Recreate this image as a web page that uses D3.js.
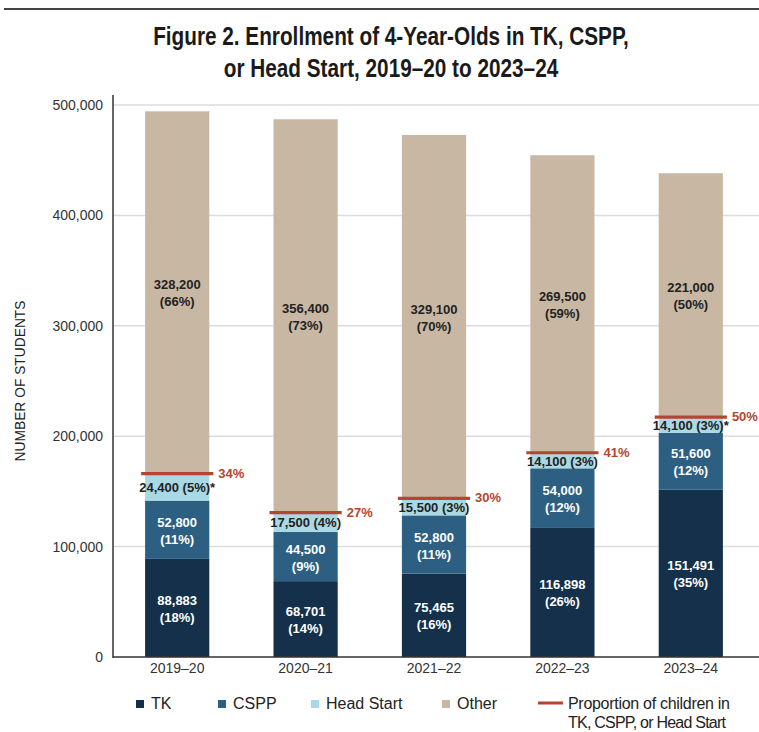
<!DOCTYPE html>
<html>
<head>
<meta charset="utf-8">
<script src="https://cdn.jsdelivr.net/npm/d3@7"></script>
<style>
  body { margin: 0; background: #fff; }
  svg text { font-family: "Liberation Sans", Arial, sans-serif; }
</style>
</head>
<body>
<div id="chart"></div>
<script>
// data
const years = ["2019–20", "2020–21", "2021–22", "2022–23", "2023–24"];
const tk = [88883, 68701, 75465, 116898, 151491];
const cspp = [52800, 44500, 52800, 54000, 51600];
const headStart = [24400, 17500, 15500, 14100, 14100];
const other = [328200, 356400, 329100, 269500, 221000];
const tkPct = [18, 14, 16, 26, 35];
const csppPct = [11, 9, 11, 12, 12];
const hsPct = [5, 4, 3, 3, 3];
const otherPct = [66, 73, 70, 59, 50];
const hsNote = ["*", "", "", "", "*"];
const proportion = [34, 27, 30, 41, 50];
const yTicks = [0, 100000, 200000, 300000, 400000, 500000];

const W = 759, H = 732;
const margin = {left: 113, right: 4, top: 105, bottom: 75};
const colors = {tk: "#15304a", cspp: "#2c5f82", hs: "#a9d9e4", other: "#c8b8a3", line: "#b5452f"};

const svg = d3.select("#chart").append("svg")
  .attr("width", W).attr("height", H);

// top rule
svg.append("line").attr("x1", 4).attr("x2", W).attr("y1", 9).attr("y2", 9)
  .attr("stroke", "#444").attr("stroke-width", 2);

// title, squeezed horizontally to mimic the condensed face
const title = svg.append("g").attr("transform", "translate(391,0) scale(0.83,1)")
  .append("text").attr("text-anchor", "middle")
  .style("font-weight", "bold").style("font-size", "25px").attr("fill", "#1a1a1a");
title.append("tspan").attr("x", 0).attr("y", 45).text("Figure 2. Enrollment of 4-Year-Olds in TK, CSPP,");
title.append("tspan").attr("x", 0).attr("y", 77).text("or Head Start, 2019–20 to 2023–24");

const y = d3.scaleLinear().domain([0, 500000]).range([657, 105]);
const x = d3.scaleBand().domain(years).range([113, 755]).paddingInner(0.5).paddingOuter(0.25);

// gridlines
svg.append("g").selectAll("line").data(yTicks.slice(1)).join("line")
  .attr("x1", margin.left).attr("x2", W)
  .attr("y1", d => y(d)).attr("y2", d => y(d))
  .attr("stroke", "#dcdcdc").attr("stroke-width", 1.5);

// y axis
const yAxis = svg.append("g").attr("transform", `translate(${margin.left},0)`)
  .call(d3.axisLeft(y).tickValues(yTicks).tickFormat(d3.format(",")).tickSize(0).tickPadding(10));
yAxis.select(".domain").remove();
yAxis.selectAll("text").style("font-size", "14px").attr("fill", "#333")
  .style("font-family", "'Liberation Sans', Arial, sans-serif");
svg.append("line").attr("x1", margin.left).attr("x2", margin.left).attr("y1", 95).attr("y2", 658)
  .attr("stroke", "#333").attr("stroke-width", 1.5);

svg.append("g").attr("transform", `translate(25,${y(250000)}) rotate(-90) scale(0.92,1)`)
  .append("text")
  .attr("text-anchor", "middle")
  .style("font-size", "15px").attr("fill", "#222")
  .text("NUMBER OF STUDENTS");

// stacked data
const keys = ["tk", "cspp", "hs", "other"];
const rows = years.map((yr, i) => ({year: yr, tk: tk[i], cspp: cspp[i], hs: headStart[i], other: other[i], idx: i}));
const stack = d3.stack().keys(keys)(rows);

const labelInfo = {
  tk: {vals: tk, pct: tkPct, fill: "#fff"},
  cspp: {vals: cspp, pct: csppPct, fill: "#fff"},
  hs: {vals: headStart, pct: hsPct, fill: "#222"},
  other: {vals: other, pct: otherPct, fill: "#222"}
};
const fmt = d3.format(",");

stack.forEach(layer => {
  const g = svg.append("g");
  g.selectAll("rect").data(layer).join("rect")
    .attr("x", d => x(d.data.year))
    .attr("width", x.bandwidth())
    .attr("y", d => y(d[1]))
    .attr("height", d => y(d[0]) - y(d[1]))
    .attr("fill", colors[layer.key]);
});

// x axis baseline
svg.append("line").attr("x1", margin.left).attr("x2", W).attr("y1", 657).attr("y2", 657)
  .attr("stroke", "#333").attr("stroke-width", 1.5);

// proportion lines
const lineG = svg.append("g");
rows.forEach((r, i) => {
  const top = y(r.tk + r.cspp + r.hs);
  lineG.append("line")
    .attr("x1", x(r.year) - 4).attr("x2", x(r.year) + x.bandwidth() + 4)
    .attr("y1", top).attr("y2", top)
    .attr("stroke", colors.line).attr("stroke-width", 3.2);
  lineG.append("text")
    .attr("x", x(r.year) + x.bandwidth() + 9).attr("y", top + 4)
    .style("font-size", "13px").style("font-weight", "bold")
    .attr("fill", colors.line).text(proportion[i] + "%");
});

// segment labels
stack.forEach(layer => {
  const info = labelInfo[layer.key];
  layer.forEach((d, i) => {
    const cx = x(d.data.year) + x.bandwidth() / 2;
    const cy = (y(d[0]) + y(d[1])) / 2;
    const t = svg.append("text").attr("text-anchor", "middle")
      .style("font-size", "13px").style("font-weight", "bold").attr("fill", info.fill);
    if (layer.key === "hs") {
      t.attr("x", cx).attr("y", cy + 5)
        .text(`${fmt(info.vals[i])} (${info.pct[i]}%)${hsNote[i]}`);
    } else {
      t.append("tspan").attr("x", cx).attr("y", cy - 3).text(fmt(info.vals[i]));
      t.append("tspan").attr("x", cx).attr("y", cy + 14).text(`(${info.pct[i]}%)`);
    }
  });
});

// x tick labels
svg.append("g").selectAll("text").data(years).join("text")
  .attr("x", d => x(d) + x.bandwidth() / 2).attr("y", 673)
  .attr("text-anchor", "middle").style("font-size", "14px").attr("fill", "#333")
  .text(d => d);

// legend
const lg = svg.append("g")
  .style("font-size", "16px").attr("fill", "#222");
const legendItems = [
  {label: "TK", color: colors.tk, x: 136},
  {label: "CSPP", color: colors.cspp, x: 218},
  {label: "Head Start", color: colors.hs, x: 311},
  {label: "Other", color: colors.other, x: 442}
];
legendItems.forEach(it => {
  lg.append("rect").attr("x", it.x).attr("y", 700).attr("width", 8).attr("height", 8).attr("fill", it.color);
  lg.append("text").attr("x", it.x + 15).attr("y", 709).text(it.label);
});
lg.append("line").attr("x1", 538).attr("x2", 563).attr("y1", 703).attr("y2", 703)
  .attr("stroke", colors.line).attr("stroke-width", 3);
lg.append("text").attr("x", 568).attr("y", 709).attr("textLength", 162).text("Proportion of children in");
lg.append("text").attr("x", 568).attr("y", 728).attr("textLength", 158).text("TK, CSPP, or Head Start");
</script>
</body>
</html>
